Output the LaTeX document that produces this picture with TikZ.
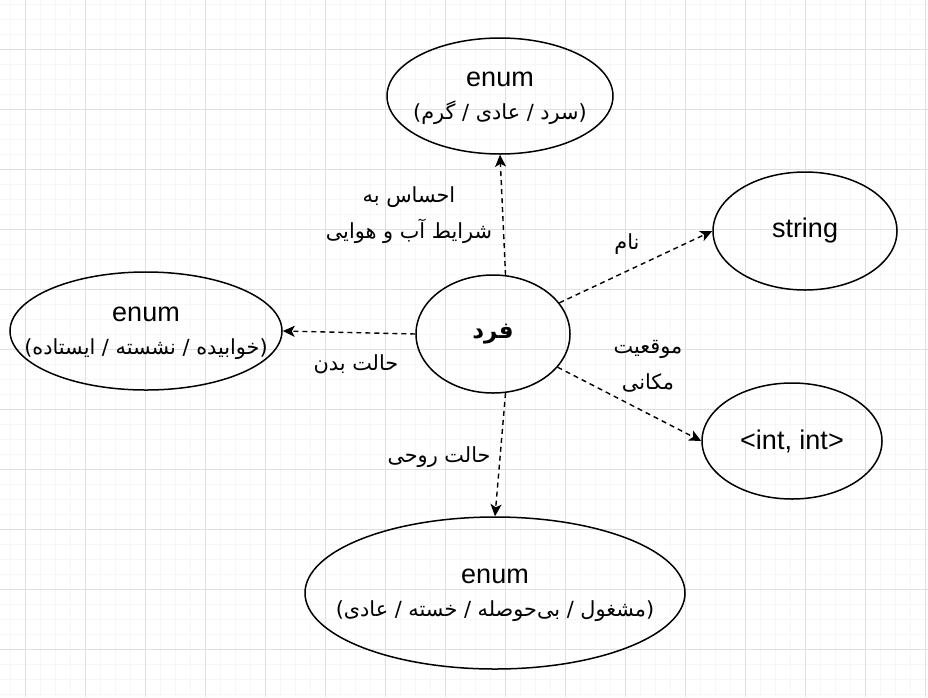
\documentclass[tikz,border=0pt]{standalone}
\usepackage{fontspec}
\setmainfont{Liberation Sans}
\newfontfamily\fa[Script=Arabic,Scale=0.85]{DejaVu Sans}
\newcommand\faline[1]{{\fa\fontsize{24.5}{33}\selectfont\beginR #1\endR}}
\TeXXeTstate=1
\usetikzlibrary{shapes.geometric,arrows.meta}
\tikzset{
  blob/.style={draw, ellipse, line width=1.5pt, inner sep=0pt},
  rel/.style={dash pattern=on 5pt off 4pt, line width=1.4pt, -{Stealth[length=12pt,width=11pt,inset=3pt]}},
  txt/.style={align=center, font=\fontsize{27}{33}\selectfont},
  lbl/.style={align=center, font=\fa\fontsize{24.5}{36}\selectfont},
}
\begin{document}
\begin{tikzpicture}[x=1pt,y=-1pt]
\useasboundingbox (0,0) rectangle (928,697);
\foreach \x in {10,25,...,925} \draw[gray!6, line width=1pt] (\x,0) -- (\x,697);
\foreach \y in {4,19,...,694} \draw[gray!6, line width=1pt] (0,\y) -- (928,\y);
\foreach \x in {25,85,...,925} \draw[gray!25, line width=1pt] (\x,0) -- (\x,697);
\foreach \y in {49,109,...,649} \draw[gray!25, line width=1pt] (0,\y) -- (928,\y);

\node[blob, minimum width=154pt, minimum height=118pt] (person) at (493,334) {};
\node[blob, minimum width=226pt, minimum height=116pt] (weather) at (500,96) {};
\node[blob, minimum width=184pt, minimum height=118pt] (name) at (805,231) {};
\node[blob, minimum width=272pt, minimum height=118pt] (posture) at (146,331) {};
\node[blob, minimum width=180pt, minimum height=116pt] (location) at (792,441) {};
\node[blob, minimum width=380pt, minimum height=152pt] (mood) at (495,593) {};

\node[txt] (person-t) at (person) {\fa\bfseries\beginR فرد\endR};
\node[txt, yshift=-2pt] (weather-t) at (weather) {enum\\\faline{(سرد / عادی / گرم)}};
\node[txt] (name-t) at (name) {string};
\node[txt, yshift=-2pt] (posture-t) at (posture) {enum\\\faline{(خوابیده / نشسته / ایستاده)}};
\node[txt] (location-t) at (location) {<int, int>};
\node[txt, yshift=-2pt] (mood-t) at (mood) {enum\\\faline{(مشغول / بی‌حوصله / خسته / عادی)}};

\draw[rel] (person.78) -- (weather.south);
\draw[rel] (person) -- (name.west);
\draw[rel] (person.west) -- (posture.east);
\draw[rel] (person) -- (location.west);
\draw[rel] (person.-78) -- (mood.north);

\node[lbl] (weather-l) at (409,215) {\beginR احساس به\endR\\\beginR شرایط آب و هوایی\endR};
\node[lbl] (name-l) at (627,244) {\beginR نام\endR};
\node[lbl] (posture-l) at (356,364) {\beginR حالت بدن\endR};
\node[lbl] (location-l) at (648,366) {\beginR موقعیت\endR\\\beginR مکانی\endR};
\node[lbl] (mood-l) at (439,457) {\beginR حالت روحی\endR};
\end{tikzpicture}
\end{document}
